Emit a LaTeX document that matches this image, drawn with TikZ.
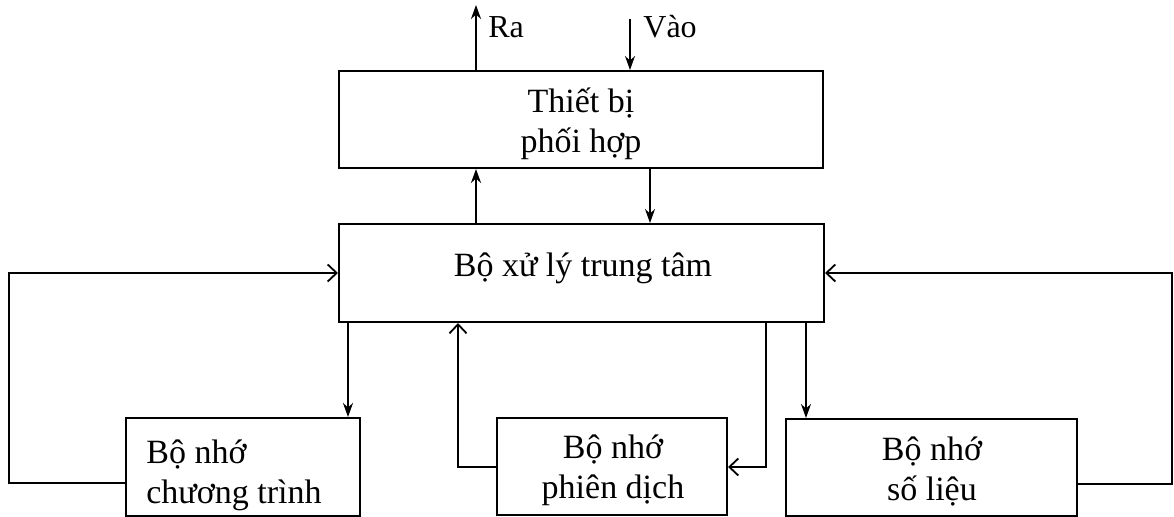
\documentclass[tikz,border=0pt]{standalone}
\usepackage{fontspec}
\setmainfont{Liberation Serif}
\usetikzlibrary{arrows.meta}
\begin{document}
\begin{tikzpicture}[x=0.5pt,y=-0.5pt,
  box/.style={draw,line width=1pt,inner sep=0pt},
  boxtext/.style={font=\fontsize{17}{20}\selectfont,inner sep=0pt,align=center},
  iotext/.style={font=\fontsize{16}{18}\selectfont,inner sep=0pt,anchor=base west},
  wire/.style={line width=0.8pt},
  thickwire/.style={line width=1.3pt},
  solidhead/.style={-{Stealth[length=7pt,width=5pt]}},
  openhead/.style={-{Straight Barb[length=4.5pt,width=8.5pt,line width=0.9pt]}}
]
\useasboundingbox (0,0) rectangle (1174,517);

% boxes
\node[box,minimum width=242pt,minimum height=48.5pt] (tb) at (581,119.5) {};
\node[box,minimum width=242.5pt,minimum height=49pt] (cpu) at (581.5,273) {};
\node[box,minimum width=117pt,minimum height=49pt] (prog) at (243,467) {};
\node[box,minimum width=115pt,minimum height=48.5pt] (pd) at (612,466.5) {};
\node[box,minimum width=145.5pt,minimum height=48.5pt] (sl) at (931.5,467.5) {};

% box labels
\node[boxtext] (tbtext) at (581,124) {Thiết bị\\phối hợp};
\node[boxtext,anchor=base] (cputext) at (583,277) {Bộ xử lý trung tâm};
\node[boxtext,align=left,anchor=west] (progtext) at (146,475) {Bộ nhớ\\chương trình};
\node[boxtext] (pdtext) at (613,470) {Bộ nhớ\\phiên dịch};
\node[boxtext] (sltext) at (932,471) {Bộ nhớ\\số liệu};

% input / output of the interface unit
\coordinate (ra) at (476,5);
\coordinate (vao) at (630,19);
\node[iotext] (ratext) at (488,38) {Ra};
\node[iotext] (vaotext) at (643,38) {Vào};
\draw[thickwire,solidhead] (tb.north -| ra) -- (ra);
\draw[wire,solidhead] (vao) -- (vao |- tb.north);

% links between interface unit and CPU
\coordinate (tbdown) at (650,0);
\draw[thickwire,solidhead] (cpu.north -| ra) -- (ra |- tb.south);
\draw[wire,solidhead] (tb.south -| tbdown) -- (tbdown |- cpu.north);

% program memory
\coordinate (cp) at (348,0);
\coordinate (lbot) at (9,483);
\draw[thickwire,solidhead] (cpu.south -| cp) -- (cp |- prog.north);
\draw[wire,openhead] (lbot -| prog.west) -- (lbot) |- (cpu.west);

% interpreter memory
\coordinate (pdl) at (458,467);
\coordinate (pdr) at (766,467);
\draw[thickwire,openhead] (pd.west |- pdl) -| (cpu.south -| pdl);
\draw[thickwire,openhead] (cpu.south -| pdr) |- (pd.east |- pdr);

% data memory
\coordinate (cs) at (806,0);
\coordinate (rbot) at (1172,484);
\draw[wire,solidhead] (cpu.south -| cs) -- (cs |- sl.north);
\draw[wire,openhead] (rbot -| sl.east) -- (rbot) |- (cpu.east);
\end{tikzpicture}
\end{document}
